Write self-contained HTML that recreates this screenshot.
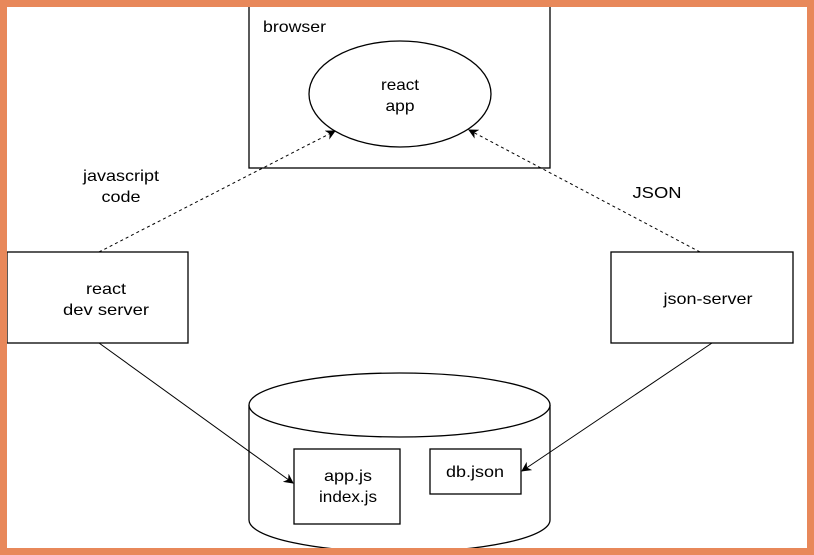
<!DOCTYPE html>
<html><head><style>
html,body{margin:0;padding:0;background:#fff}
svg{display:block}
text{font-family:"Liberation Sans",Arial,sans-serif;font-size:16px;fill:#000}
</style></head><body>
<svg width="814" height="555" viewBox="0 0 814 555" xmlns="http://www.w3.org/2000/svg">
<defs>
<marker id="a" markerWidth="10" markerHeight="10" refX="9" refY="5" orient="auto" markerUnits="userSpaceOnUse">
<path d="M0,0 L10,5 L0,10 L3,5 Z" fill="#000"/>
</marker>
</defs>
<rect x="0" y="0" width="814" height="555" fill="#fff"/>
<rect x="249" y="-5" width="301" height="173" fill="#fff" stroke="#000" stroke-width="1.3"/>
<text x="263" y="32" textLength="63" lengthAdjust="spacingAndGlyphs">browser</text>
<ellipse cx="400" cy="94" rx="91" ry="53" fill="#fff" stroke="#000" stroke-width="1.3"/>
<text x="400" y="90" text-anchor="middle" textLength="38" lengthAdjust="spacingAndGlyphs">react</text>
<text x="400" y="111" text-anchor="middle" textLength="29" lengthAdjust="spacingAndGlyphs">app</text>
<line x1="99" y1="252" x2="335" y2="131" stroke="#000" stroke-dasharray="3,3" marker-end="url(#a)"/>
<line x1="700" y1="252" x2="469" y2="130" stroke="#000" stroke-dasharray="3,3" marker-end="url(#a)"/>
<text x="121" y="181" text-anchor="middle" textLength="76" lengthAdjust="spacingAndGlyphs">javascript</text>
<text x="121" y="202" text-anchor="middle" textLength="39" lengthAdjust="spacingAndGlyphs">code</text>
<text x="657" y="198" text-anchor="middle" textLength="49" lengthAdjust="spacingAndGlyphs">JSON</text>
<rect x="7" y="252" width="181" height="91" fill="#fff" stroke="#000" stroke-width="1.3"/>
<text x="106" y="294" text-anchor="middle" textLength="40" lengthAdjust="spacingAndGlyphs">react</text>
<text x="106" y="315" text-anchor="middle" textLength="86" lengthAdjust="spacingAndGlyphs">dev server</text>
<rect x="611" y="252" width="182" height="91" fill="#fff" stroke="#000" stroke-width="1.3"/>
<text x="708" y="304" text-anchor="middle" textLength="89" lengthAdjust="spacingAndGlyphs">json-server</text>
<path d="M249,405 L249,520 A150.5,32 0 0 0 550,520 L550,405" fill="#fff" stroke="#000" stroke-width="1.3"/>
<ellipse cx="399.5" cy="405" rx="150.5" ry="32" fill="#fff" stroke="#000" stroke-width="1.3"/>
<rect x="294" y="449" width="106" height="75" fill="#fff" stroke="#000" stroke-width="1.3"/>
<text x="348" y="481" text-anchor="middle" textLength="48" lengthAdjust="spacingAndGlyphs">app.js</text>
<text x="348" y="502" text-anchor="middle" textLength="58" lengthAdjust="spacingAndGlyphs">index.js</text>
<rect x="430" y="449" width="91" height="45" fill="#fff" stroke="#000" stroke-width="1.3"/>
<text x="475" y="477" text-anchor="middle" textLength="58" lengthAdjust="spacingAndGlyphs">db.json</text>
<line x1="99" y1="343" x2="293" y2="483" stroke="#000" marker-end="url(#a)"/>
<line x1="712" y1="343" x2="522" y2="471" stroke="#000" marker-end="url(#a)"/>
<rect x="3.5" y="3.5" width="807" height="548" fill="none" stroke="#E8885A" stroke-width="7"/>
</svg>
</body></html>
